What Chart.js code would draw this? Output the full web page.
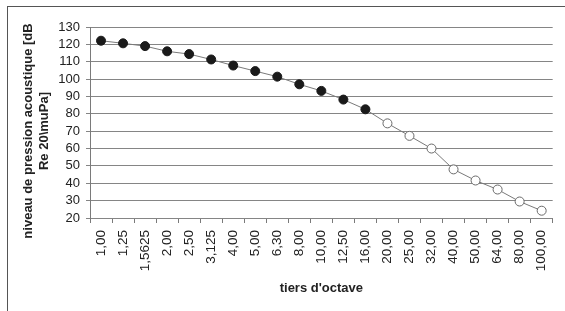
<!DOCTYPE html>
<html lang="fr">
<head>
<meta charset="UTF-8">
<title>Niveau de pression acoustique</title>
<script src="https://cdn.jsdelivr.net/npm/chart.js"></script>
<style>
  html, body { margin: 0; padding: 0; background: #fff; }
  #wrap { width: 565px; height: 311px; }
</style>
</head>
<body>
<div id="wrap"><canvas id="chart" width="565" height="311"></canvas></div>
<script>
// bandes de tiers d'octave
const bandes = ['1,00', '1,25', '1,5625', '2,00', '2,50', '3,125', '4,00', '5,00', '6,30',
  '8,00', '10,00', '12,50', '16,00', '20,00', '25,00', '32,00', '40,00', '50,00',
  '64,00', '80,00', '100,00'];

// niveaux (dB)
const niveaux = [122.1, 120.6, 119, 116, 114.4, 111.3, 107.8, 104.6, 101.4, 97, 93.2,
  88.2, 82.6, 74.5, 67.3, 60, 48, 41.6, 36.4, 29.5, 24.2];

// les 13 premiers points sont pleins, les suivants creux
const nbPleins = 13;

const titreY = ['niveau de pression acoustique [dB', 'Re 20\\muPa]'];
const titreX = "tiers d'octave";

const police = 'Arial, "Liberation Sans", sans-serif';

// cadre autour du graphique (coupé à droite et en bas comme l'original)
// + titre vertical, dessiné à la main pour le centrer comme Excel
const cadre = {
  id: 'cadre',
  beforeDraw(chart) {
    const c = chart.ctx;
    c.save();
    c.fillStyle = '#fff';
    c.fillRect(0, 0, chart.width, chart.height);
    c.strokeStyle = '#555';
    c.lineWidth = 1;
    c.strokeRect(7.5, 6.5, 600, 400);
    c.restore();
  },
  afterDraw(chart) {
    const c = chart.ctx;
    c.save();
    c.fillStyle = '#222';
    c.font = 'bold 13px ' + police;
    c.textAlign = 'center';
    c.textBaseline = 'middle';
    c.translate(28, 131);
    c.rotate(-Math.PI / 2);
    titreY.forEach((t, i) => c.fillText(t, 0, i * 16.5));
    c.restore();
  }
};

new Chart(document.getElementById('chart'), {
  type: 'line',
  data: {
    labels: bandes,
    datasets: [{
      data: niveaux,
      borderColor: '#7a7a7a',
      borderWidth: 1,
      tension: 0,
      pointRadius: 4.5,
      pointBorderWidth: 1,
      pointBorderColor: ctx => ctx.dataIndex < nbPleins ? '#1a1a1a' : '#6a6a6a',
      pointBackgroundColor: ctx => ctx.dataIndex < nbPleins ? '#1a1a1a' : '#ffffff'
    }]
  },
  options: {
    responsive: false,
    animation: false,
    layout: { padding: { top: 27, right: 1, left: 0, bottom: 0 } },
    plugins: { legend: { display: false }, tooltip: { enabled: false } },
    scales: {
      x: {
        offset: true,
        grid: { offset: true, drawOnChartArea: false, color: '#7a7a7a', tickLength: 5 },
        border: { display: false },
        ticks: {
          autoSkip: false, maxRotation: 90, minRotation: 90, padding: 7,
          color: '#222', font: { family: police, size: 13.5 }
        },
        title: {
          display: true, text: titreX, color: '#222',
          font: { family: police, size: 13, weight: 'bold' },
          padding: { top: 0, bottom: 15 }
        },
        afterFit: s => { s.height = 93; }
      },
      y: {
        min: 20, max: 130,
        grid: { color: '#858585', tickLength: 4 },
        border: { color: '#7a7a7a' },
        ticks: {
          stepSize: 10, autoSkip: false, padding: 6,
          color: '#222', font: { family: police, size: 13 }
        },
        afterFit: s => { s.width = 90; }
      }
    }
  },
  plugins: [cadre]
});
</script>
</body>
</html>
